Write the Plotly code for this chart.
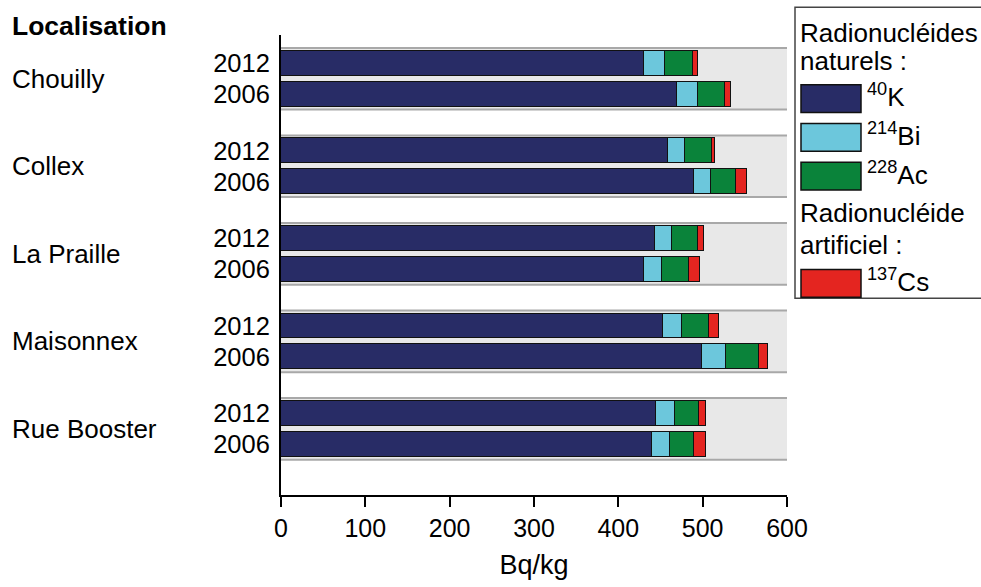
import plotly.graph_objects as go

# Activity of radionuclides in soil samples (Bq/kg)
locations = ["Chouilly", "Collex", "La Praille", "Maisonnex", "Rue Booster"]
years = ["2012", "2006"]

k40_2012 = [430, 459, 444, 453, 445]
bi214_2012 = [25, 20, 20, 23, 22]
ac228_2012 = [34, 32, 30, 32, 29]
cs137_2012 = [5, 4, 8, 11, 8]

k40_2006 = [470, 490, 430, 499, 440]
bi214_2006 = [24, 20, 22, 29, 21]
ac228_2006 = [32, 29, 32, 39, 29]
cs137_2006 = [8, 14, 13, 11, 14]

x_ticks = [0, 100, 200, 300, 400, 500, 600]

colors = {"K": "#282c66", "Bi": "#6cc7dc", "Ac": "#0a833a", "Cs": "#e42520"}
FONT = "Liberation Sans, Arial, Helvetica, sans-serif"

W, H = 981, 587
L, R, T, B = 281, 787, 35, 498


def px_x(px):
    return (px - L) / (R - L)


def px_y(py):
    return (B - py) / (B - T)


offset = 0.176
bar_w = 0.284
pos_2012 = [i - offset for i in range(len(locations))]
pos_2006 = [i + offset for i in range(len(locations))]

series = [
    ("K", k40_2012, k40_2006),
    ("Bi", bi214_2012, bi214_2006),
    ("Ac", ac228_2012, ac228_2006),
    ("Cs", cs137_2012, cs137_2006),
]

fig = go.Figure()
for key, v12, v06 in series:
    fig.add_trace(go.Bar(
        y=pos_2012 + pos_2006,
        x=v12 + v06,
        orientation="h",
        width=bar_w,
        marker=dict(color=colors[key], line=dict(color="#111111", width=1.5)),
        showlegend=False,
        hoverinfo="x",
    ))

shapes = []
# grey band behind each location group
for i in range(len(locations)):
    shapes.append(dict(type="rect", xref="x", yref="y", x0=0, x1=600,
                       y0=i - 0.352, y1=i + 0.352, layer="below",
                       fillcolor="#e8e8e8", line=dict(width=0)))
    for yy in (i - 0.352, i + 0.352):
        shapes.append(dict(type="line", xref="x", yref="y", x0=0, x1=600,
                           y0=yy, y1=yy, layer="below",
                           line=dict(color="#a8a8a8", width=2)))

annotations = []
annotations.append(dict(text="<b>Localisation</b>", xref="paper", yref="paper",
                        x=px_x(10), y=px_y(26), xanchor="left", yanchor="middle",
                        showarrow=False, font=dict(size=26.5, family=FONT, color="black")))
for i, name in enumerate(locations):
    annotations.append(dict(text=name, xref="paper", yref="y", x=px_x(10), y=i,
                            xanchor="left", yanchor="middle", showarrow=False,
                            font=dict(size=26, family=FONT, color="black")))

# legend box
shapes.append(dict(type="rect", xref="paper", yref="paper",
                   x0=px_x(795), x1=px_x(1010), y0=px_y(300), y1=px_y(7),
                   fillcolor="white", line=dict(color="#444444", width=1.5)))
legend_rows = [
    ("text", "Radionucléides", 33),
    ("text", "naturels :", 61),
    ("K", "<sup>40</sup>K", 99),
    ("Bi", "<sup>214</sup>Bi", 138),
    ("Ac", "<sup>228</sup>Ac", 177),
    ("text", "Radionucléide", 214),
    ("text", "artificiel :", 246),
    ("Cs", "<sup>137</sup>Cs", 285),
]
for kind, label, cy in legend_rows:
    if kind == "text":
        annotations.append(dict(text=label, xref="paper", yref="paper",
                                x=px_x(798), y=px_y(cy), xanchor="left", yanchor="middle",
                                showarrow=False,
                                font=dict(size=26, family=FONT, color="black")))
    else:
        shapes.append(dict(type="rect", xref="paper", yref="paper",
                           x0=px_x(801), x1=px_x(861), y0=px_y(cy + 14), y1=px_y(cy - 14),
                           fillcolor=colors[kind], line=dict(color="#111111", width=1.5)))
        annotations.append(dict(text=label, xref="paper", yref="paper",
                                x=px_x(865), y=px_y(cy - 3), xanchor="left", yanchor="middle",
                                showarrow=False,
                                font=dict(size=26, family=FONT, color="black")))

fig.update_layout(
    width=W, height=H,
    margin=dict(l=L, r=W - R, t=T, b=H - B),
    barmode="stack",
    bargap=0,
    plot_bgcolor="white",
    paper_bgcolor="white",
    font=dict(family=FONT, size=25, color="black"),
    shapes=shapes,
    annotations=annotations,
    xaxis=dict(
        range=[0, 600], tickvals=x_ticks, ticktext=[str(v) for v in x_ticks],
        showgrid=False, zeroline=False, showline=True, linecolor="black", linewidth=2,
        ticks="outside", ticklen=10, tickwidth=2, tickcolor="black",
        tickfont=dict(size=25, family=FONT),
        title=dict(text="Bq/kg", font=dict(size=27, family=FONT), standoff=14),
        fixedrange=True,
    ),
    yaxis=dict(
        range=[4.755, -0.5],
        tickvals=pos_2012 + pos_2006,
        ticktext=[years[0]] * len(locations) + [years[1]] * len(locations),
        showgrid=False, zeroline=False, showline=True, linecolor="black", linewidth=2,
        ticks="", ticklabelstandoff=4,
        tickfont=dict(size=25.5, family=FONT),
        fixedrange=True,
    ),
)

fig.write_html("out.html")
